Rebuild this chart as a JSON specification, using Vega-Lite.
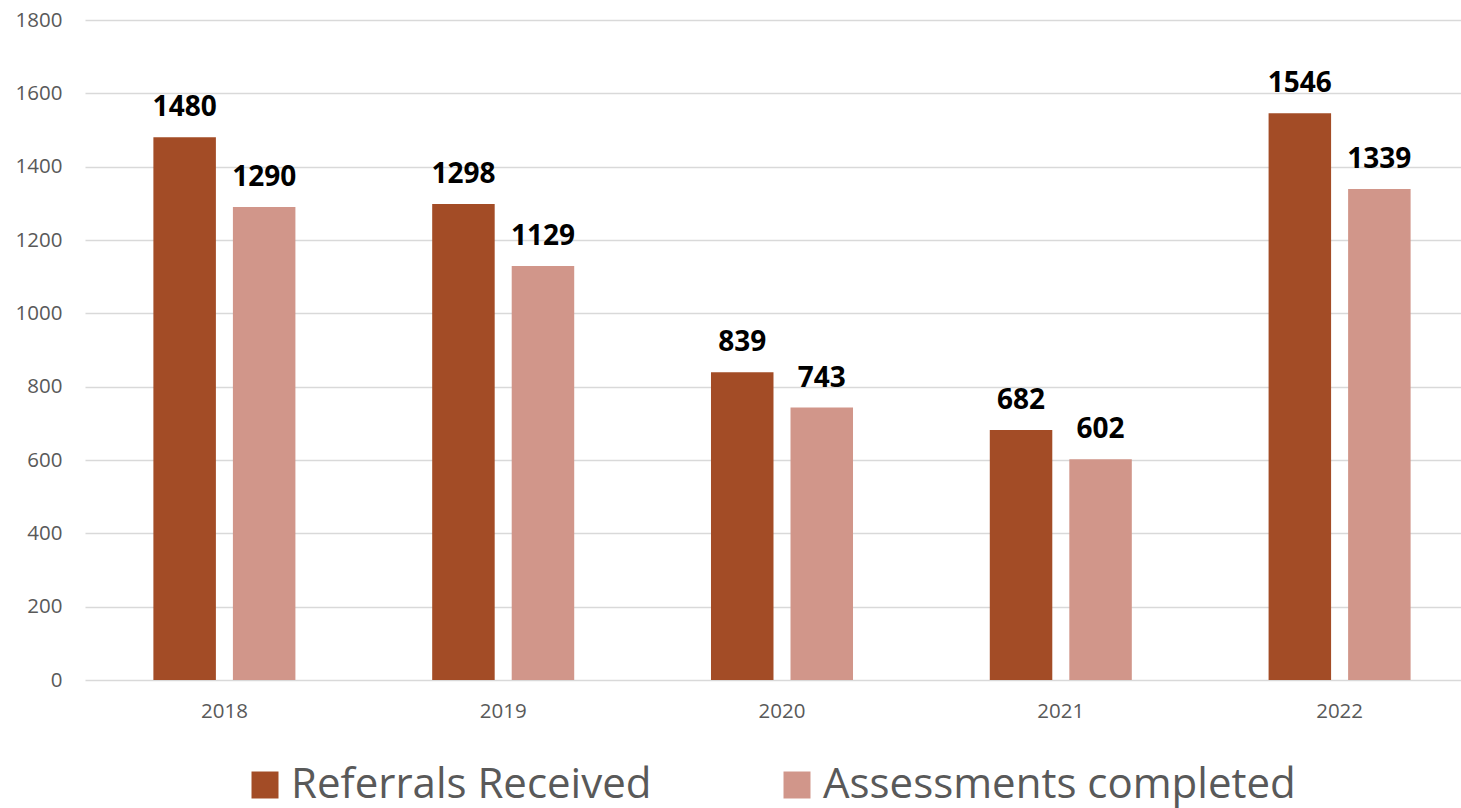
{
  "$schema": "https://vega.github.io/schema/vega-lite/v6.json",
  "autosize": {"type": "none"},
  "width": 1376,
  "height": 660,
  "padding": {"left": 85, "top": 20, "right": 0, "bottom": 128},
  "background": "white",
  "config": {
    "view": {"stroke": null},
    "font": "Open Sans"
  },
  "data": {
    "values": [
      {"year": "2018", "measure": "Referrals Received", "value": 1480},
      {"year": "2018", "measure": "Assessments completed", "value": 1290},
      {"year": "2019", "measure": "Referrals Received", "value": 1298},
      {"year": "2019", "measure": "Assessments completed", "value": 1129},
      {"year": "2020", "measure": "Referrals Received", "value": 839},
      {"year": "2020", "measure": "Assessments completed", "value": 743},
      {"year": "2021", "measure": "Referrals Received", "value": 682},
      {"year": "2021", "measure": "Assessments completed", "value": 602},
      {"year": "2022", "measure": "Referrals Received", "value": 1546},
      {"year": "2022", "measure": "Assessments completed", "value": 1339}
    ]
  },
  "encoding": {
    "x": {
      "field": "year",
      "type": "nominal",
      "scale": {"range": [0, 1394], "paddingInner": 0, "paddingOuter": 0},
      "axis": {
        "title": null,
        "domain": false,
        "ticks": false,
        "labelAngle": 0,
        "labelFont": "Open Sans",
        "labelFontSize": 20.5,
        "labelColor": "#595959",
        "labelPadding": 21
      }
    },
    "xOffset": {
      "field": "measure",
      "type": "nominal",
      "sort": ["Referrals Received", "Assessments completed"],
      "scale": {"paddingInner": 0.214, "paddingOuter": 0.86}
    },
    "y": {
      "field": "value",
      "type": "quantitative",
      "scale": {"domain": [0, 1800], "nice": false},
      "axis": {
        "title": null,
        "values": [0, 200, 400, 600, 800, 1000, 1200, 1400, 1600, 1800],
        "format": "d",
        "domain": false,
        "ticks": false,
        "grid": true,
        "gridColor": "#d9d9d9",
        "gridWidth": 1.5,
        "labelFont": "Open Sans",
        "labelFontSize": 20.5,
        "labelColor": "#595959",
        "labelPadding": 23
      }
    }
  },
  "layer": [
    {
      "mark": {"type": "bar"},
      "encoding": {
        "color": {
          "field": "measure",
          "type": "nominal",
          "sort": ["Referrals Received", "Assessments completed"],
          "scale": {
            "domain": ["Referrals Received", "Assessments completed"],
            "range": ["#A34C26", "#D1968A"]
          },
          "legend": {
            "title": null,
            "orient": "none",
            "legendX": 159,
            "legendY": 744,
            "direction": "horizontal",
            "symbolType": "square",
            "symbolSize": 729,
            "symbolStrokeWidth": 0,
            "labelFont": "Open Sans",
            "labelFontSize": 42,
            "labelColor": "#595959",
            "labelOffset": 5,
            "labelLimit": 1000,
            "columnPadding": 124,
            "padding": 0
          }
        }
      }
    },
    {
      "mark": {
        "type": "text",
        "baseline": "alphabetic",
        "dy": -21,
        "font": "Open Sans",
        "fontSize": 28,
        "fontWeight": "bold",
        "color": "#000000"
      },
      "encoding": {
        "text": {"field": "value", "type": "quantitative", "format": "d"}
      }
    }
  ]
}
